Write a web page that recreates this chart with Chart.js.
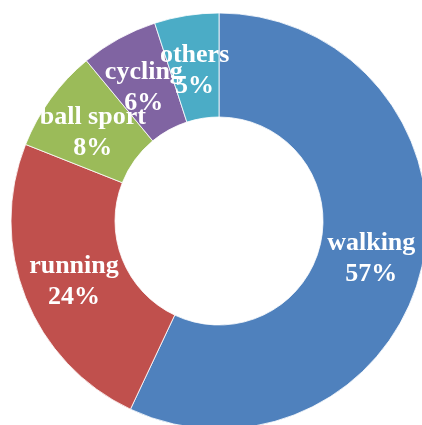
<!DOCTYPE html>
<html>
<head>
<meta charset="utf-8">
<script src="https://cdn.jsdelivr.net/npm/chart.js@4"></script>
<style>
  html, body { margin: 0; padding: 0; background: #fff; overflow: hidden; width: 422px; height: 425px; }
  canvas { display: block; }
</style>
</head>
<body>
<canvas id="donut" width="438" height="442"></canvas>
<script>
// data
const categories = ["walking", "running", "ball sport", "cycling", "others"];
const shares = [57, 24, 8, 6, 5];
const sliceColors = ["#4F81BD", "#C0504D", "#9BBB59", "#8064A2", "#4BACC6"];

// draws "name / pct%" in the middle of each ring segment
const sliceLabels = {
  id: "sliceLabels",
  afterDatasetsDraw(chart){
    const c = chart.ctx;
    const meta = chart.getDatasetMeta(0);
    const total = shares.reduce((a,b)=>a+b, 0);
    c.save();
    c.fillStyle = "#fff";
    c.font = "bold 26px 'Liberation Serif', 'Times New Roman', serif";
    c.textAlign = "center";
    c.textBaseline = "middle";
    meta.data.forEach((arc, i) => {
      const p = arc.tooltipPosition();
      const pct = Math.round(shares[i] / total * 100) + "%";
      c.fillText(categories[i], p.x, p.y - 12);
      c.fillText(pct, p.x, p.y + 19);
    });
    c.restore();
  }
};

new Chart(document.getElementById("donut").getContext("2d"), {
  type: "doughnut",
  data: {
    labels: categories,
    datasets: [{
      data: shares,
      backgroundColor: sliceColors,
      borderColor: "#ffffff",
      borderWidth: 0.8
    }]
  },
  options: {
    responsive: false,
    animation: false,
    radius: 208,
    cutout: "50%",
    plugins: { legend: { display: false }, tooltip: { enabled: false } }
  },
  plugins: [sliceLabels]
});
</script>
</body>
</html>
